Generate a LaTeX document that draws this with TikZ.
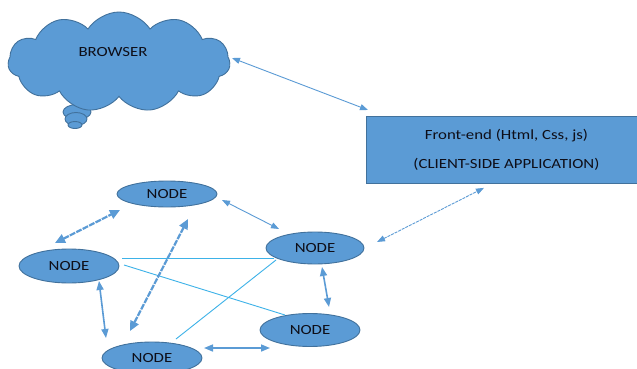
\documentclass[tikz,border=0pt]{standalone}
\usepackage{fontspec}
\newfontfamily\lbl[FakeStretch=1.2]{Carlito}
\usetikzlibrary{shapes.symbols,shapes.geometric,arrows.meta}
\definecolor{fillb}{HTML}{5B9BD5}
\definecolor{edgeb}{HTML}{41719C}
\definecolor{arrb}{HTML}{5B9BD5}
\definecolor{linec}{HTML}{3DB2E8}
\definecolor{txt}{HTML}{0E0E18}
\begin{document}
\begin{tikzpicture}[x=1pt,y=-1pt,
  shp/.style={fill=fillb,draw=edgeb,line width=0.9pt},
  lbltext/.style={font=\lbl\fontsize{14}{16}\selectfont,text=txt},
  nodeell/.style={shp,ellipse,minimum width=100pt,minimum height=32pt,inner sep=0pt,lbltext},
  thinarr/.style={draw=arrb,line width=0.9pt,{Triangle[length=8pt,width=6pt]}-{Triangle[length=8pt,width=6pt]}},
  medarr/.style={draw=arrb,line width=1.6pt,{Triangle[length=9pt,width=7pt]}-{Triangle[length=9pt,width=7pt]}},
  heavyarr/.style={draw=arrb,line width=2.2pt,dash pattern=on 6pt off 1.2pt,{Triangle[length=10pt,width=9pt]}-{Triangle[length=10pt,width=9pt]}},
  dotarr/.style={thinarr,dash pattern=on 3pt off 1pt},
  plainline/.style={draw=linec,line width=0.9pt}]
\useasboundingbox (0,0) rectangle (637,369);
\fill[white] (0,0) rectangle (637,369);
% thought bubbles
\draw[shp] (77,112) ellipse [x radius=14, y radius=7.5];
\draw[shp] (76,119) ellipse [x radius=11, y radius=6.5];
\draw[shp] (75,125) ellipse [x radius=7, y radius=3.5];
% browser cloud
\node[shp,cloud,cloud puffs=11,cloud puff arc=115,aspect=2.2,minimum width=222pt,minimum height=100pt,inner sep=0pt] (browser) at (119,62) {};
\node[lbltext] (browserlbl) at (113,52) {BROWSER};
% front-end box
\node[shp,rectangle,anchor=north west,minimum width=280pt,minimum height=67pt,align=center,lbltext,inner sep=0pt] (fe) at (366,116) {Front-end (Html, Css, js)\\[13pt](CLIENT-SIDE APPLICATION)};
% nodes
\node[nodeell,minimum height=26pt] (n1) at (167,194) {NODE};
\node[nodeell,minimum height=34pt] (n2) at (69,266) {NODE};
\node[nodeell,minimum width=98pt] (n3) at (315,248) {NODE};
\node[nodeell,minimum height=33pt] (n4) at (310,330) {NODE};
\node[nodeell] (n5) at (152,358) {NODE};
% plain lines
\draw[plainline] ([shift={(53,-8)}]n2.center) -- ([shift={(-41,10)}]n3.center);
\draw[plainline] ([shift={(55,-1)}]n2.center) -- ([shift={(-25,-15)}]n4.center);
\draw[plainline] ([shift={(24,-19)}]n5.center) -- ([shift={(-39,12)}]n3.center);
% arrows
\draw[thinarr] ([shift={(113,-4)}]browser.center) -- ([shift={(2,-6)}]fe.north west);
\draw[heavyarr] ([shift={(-14,-23)}]n2.center) -- ([shift={(-47,16)}]n1.center);
\draw[heavyarr] ([shift={(21,25)}]n1.center) -- ([shift={(-22,-27)}]n5.center);
\draw[thinarr] ([shift={(55,6)}]n1.center) -- ([shift={(-36,-19)}]n3.center);
\draw[medarr] ([shift={(30,15)}]n2.center) -- ([shift={(-46,-20)}]n5.center);
\draw[medarr] ([shift={(7,19)}]n3.center) -- ([shift={(19,-23)}]n4.center);
\draw[medarr] ([shift={(52,-10)}]n5.center) -- ([shift={(-40,18)}]n4.center);
\draw[dotarr] ([shift={(62,-6)}]n3.center) -- ([shift={(118,4)}]fe.south west);
\end{tikzpicture}
\end{document}
